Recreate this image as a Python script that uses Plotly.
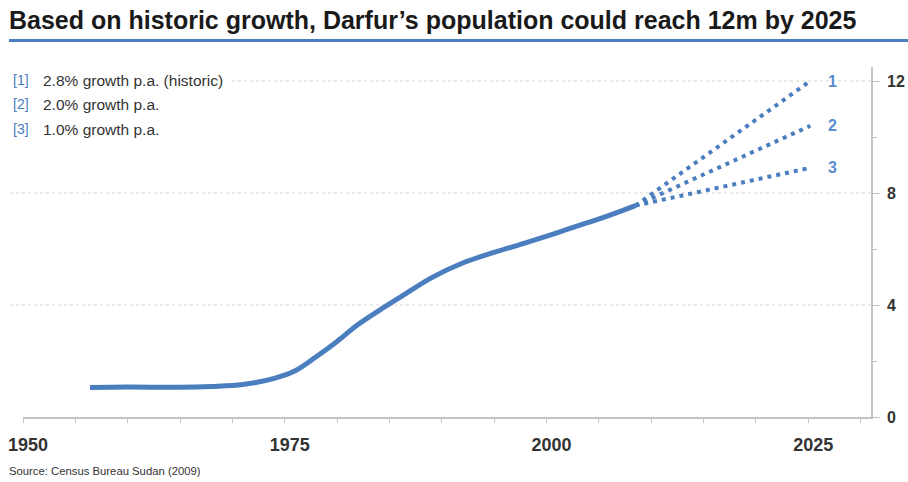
import plotly.graph_objects as go

# Darfur population (millions), census-based history
hist_years = [1956.4, 1960, 1965, 1968, 1971, 1974, 1976, 1978, 1980, 1982, 1984,
              1986, 1989, 1992, 1995, 1998, 2001, 2004, 2006, 2008.5]
hist_pop = [1.05, 1.07, 1.06, 1.09, 1.16, 1.38, 1.65, 2.15, 2.7, 3.3, 3.8,
            4.27, 4.97, 5.5, 5.88, 6.22, 6.58, 6.95, 7.2, 7.55]

# Projection scenarios from 2008 to 2025
proj_years = [2008.5, 2025.2]
proj_labels = ["1", "2", "3"]
proj_pop = {
    "1": [7.55, 12.0],
    "2": [7.55, 10.4],
    "3": [7.55, 8.9],
}
legend_keys = ["[1]", "[2]", "[3]"]
legend_texts = ["2.8% growth p.a. (historic)", "2.0% growth p.a.", "1.0% growth p.a."]

x_ticks = [1950, 1975, 2000, 2025]
y_ticks = [0, 4, 8, 12]

W, H = 908, 482
ML, MR, MT, MB = 23, 37, 67, 64.5
PW, PH = W - ML - MR, H - MT - MB

BLUE = "#4a7ebf"
LABEL_BLUE = "#5b8cd0"
AXIS = "#c4c4c4"
TEXT = "#333333"
FONT = "Liberation Sans, Arial, sans-serif"


def px(xp):
    return (xp - ML) / PW


def py(yp):
    return (H - MB - yp) / PH


fig = go.Figure()

fig.add_trace(go.Scatter(
    x=hist_years, y=hist_pop, mode="lines",
    line=dict(color=BLUE, width=5, shape="spline", smoothing=1.0),
    hoverinfo="skip", showlegend=False,
))

for key in proj_labels:
    fig.add_trace(go.Scatter(
        x=proj_years, y=proj_pop[key], mode="lines",
        line=dict(color=BLUE, width=4, dash="4px,5px"),
        hoverinfo="skip", showlegend=False,
    ))
    fig.add_annotation(
        x=2027.3, y=proj_pop[key][-1], xref="x", yref="y",
        text=key, showarrow=False, xanchor="center", yanchor="middle",
        font=dict(family=FONT, size=16, color=LABEL_BLUE, weight="bold"),
    )

# dotted horizontal gridlines and right-hand value labels
for v in y_ticks:
    if v > 0:
        x0 = px(232) if v == 12 else px(10)
        fig.add_shape(type="line", xref="paper", yref="y", x0=x0, x1=1, y0=v, y1=v,
                      line=dict(color="#d4d4d4", width=1, dash="dot"), layer="below")
    fig.add_annotation(x=px(885), y=v, xref="paper", yref="y", xanchor="left",
                       yanchor="middle", text=str(v), showarrow=False,
                       font=dict(family=FONT, size=16, color=TEXT, weight="bold"))

# title and rule beneath it
fig.add_annotation(
    x=px(7), y=py(20), xref="paper", yref="paper", xanchor="left", yanchor="middle",
    text="Based on historic growth, Darfur\u2019s population could reach 12m by 2025",
    showarrow=False, font=dict(family=FONT, size=25, color="#1a1a1a", weight="bold"),
)
fig.add_shape(type="line", xref="paper", yref="paper", x0=px(9), x1=px(908),
              y0=py(40.5), y1=py(40.5), line=dict(color=BLUE, width=3))

# scenario key
rows = [80.5, 104.5, 129.5]
for k, t, r in zip(legend_keys, legend_texts, rows):
    fig.add_annotation(x=px(11), y=py(r), xref="paper", yref="paper",
                       xanchor="left", yanchor="middle", text=k, showarrow=False,
                       font=dict(family=FONT, size=14, color=BLUE))
    fig.add_annotation(x=px(41), y=py(r), xref="paper", yref="paper",
                       xanchor="left", yanchor="middle", text=t, showarrow=False,
                       font=dict(family=FONT, size=15.5, color=TEXT))

fig.add_annotation(
    x=px(7), y=py(472), xref="paper", yref="paper", xanchor="left", yanchor="middle",
    text="Source: Census Bureau Sudan (2009)", showarrow=False,
    font=dict(family=FONT, size=11.3, color=TEXT),
)

fig.update_layout(
    width=W, height=H,
    margin=dict(l=ML, r=MR, t=MT, b=MB, pad=0, autoexpand=False),
    paper_bgcolor="white", plot_bgcolor="white",
    showlegend=False,
    xaxis=dict(
        range=[1950, 2031], tickvals=x_ticks, ticktext=[str(v) for v in x_ticks],
        showgrid=False, zeroline=False, showline=True, linecolor=AXIS, linewidth=1.5,
        ticks="outside", ticklen=4, tickcolor=AXIS, tickwidth=1,
        minor=dict(dtick=5, tick0=1950, ticks="outside", ticklen=4, tickcolor=AXIS, showgrid=False),
        tickfont=dict(family=FONT, size=18, color=TEXT, weight="bold"),
        ticklabelshift=5, ticklabelstandoff=7, fixedrange=True, automargin=False,
    ),
    yaxis=dict(
        range=[0, 12.5], side="right", tickvals=y_ticks, showticklabels=False,
        showgrid=False, zeroline=False, showline=True, linecolor=AXIS, linewidth=1.5,
        ticks="outside", ticklen=7, tickcolor=AXIS, tickwidth=1,
        minor=dict(dtick=2, tick0=0, ticks="outside", ticklen=4, tickcolor=AXIS, showgrid=False),
        fixedrange=True, automargin=False,
    ),
)

fig.write_html("out.html", config={"displayModeBar": False})
